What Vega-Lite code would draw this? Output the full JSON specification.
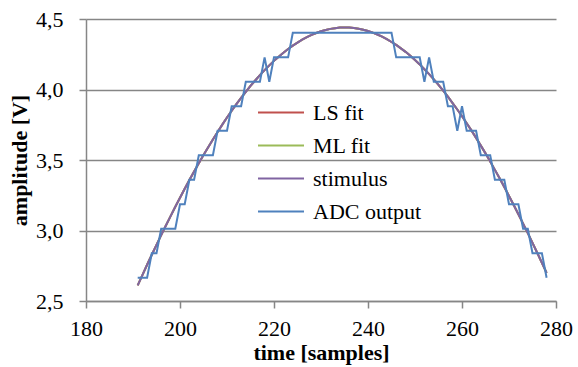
{
 "$schema": "https://vega.github.io/schema/vega-lite/v6.json",
 "width": 470, "height": 282,
 "autosize": {"type": "none"},
 "padding": {"left": 86, "top": 19, "right": 22, "bottom": 66},
 "background": "white",
 "config": {"view": {"stroke": null}, "font": "Liberation Serif"},
 "data": {"values": [
  {"t":191,"LS fit":2.611,"ML fit":2.611,"stimulus":2.611,"ADC output":2.665},
  {"t":192,"LS fit":2.684,"ML fit":2.684,"stimulus":2.684,"ADC output":2.665},
  {"t":193,"LS fit":2.757,"ML fit":2.757,"stimulus":2.757,"ADC output":2.665},
  {"t":194,"LS fit":2.828,"ML fit":2.828,"stimulus":2.828,"ADC output":2.839},
  {"t":195,"LS fit":2.898,"ML fit":2.898,"stimulus":2.898,"ADC output":2.839},
  {"t":196,"LS fit":2.967,"ML fit":2.967,"stimulus":2.967,"ADC output":3.012},
  {"t":197,"LS fit":3.035,"ML fit":3.035,"stimulus":3.035,"ADC output":3.012},
  {"t":198,"LS fit":3.102,"ML fit":3.102,"stimulus":3.102,"ADC output":3.012},
  {"t":199,"LS fit":3.168,"ML fit":3.168,"stimulus":3.168,"ADC output":3.012},
  {"t":200,"LS fit":3.232,"ML fit":3.232,"stimulus":3.232,"ADC output":3.186},
  {"t":201,"LS fit":3.296,"ML fit":3.296,"stimulus":3.296,"ADC output":3.186},
  {"t":202,"LS fit":3.358,"ML fit":3.358,"stimulus":3.358,"ADC output":3.360},
  {"t":203,"LS fit":3.418,"ML fit":3.418,"stimulus":3.418,"ADC output":3.360},
  {"t":204,"LS fit":3.477,"ML fit":3.477,"stimulus":3.477,"ADC output":3.534},
  {"t":205,"LS fit":3.535,"ML fit":3.535,"stimulus":3.535,"ADC output":3.534},
  {"t":206,"LS fit":3.591,"ML fit":3.591,"stimulus":3.591,"ADC output":3.534},
  {"t":207,"LS fit":3.646,"ML fit":3.646,"stimulus":3.646,"ADC output":3.534},
  {"t":208,"LS fit":3.699,"ML fit":3.699,"stimulus":3.699,"ADC output":3.707},
  {"t":209,"LS fit":3.751,"ML fit":3.751,"stimulus":3.751,"ADC output":3.707},
  {"t":210,"LS fit":3.801,"ML fit":3.801,"stimulus":3.801,"ADC output":3.707},
  {"t":211,"LS fit":3.849,"ML fit":3.849,"stimulus":3.849,"ADC output":3.881},
  {"t":212,"LS fit":3.896,"ML fit":3.896,"stimulus":3.896,"ADC output":3.881},
  {"t":213,"LS fit":3.940,"ML fit":3.940,"stimulus":3.940,"ADC output":3.881},
  {"t":214,"LS fit":3.983,"ML fit":3.983,"stimulus":3.983,"ADC output":4.055},
  {"t":215,"LS fit":4.025,"ML fit":4.025,"stimulus":4.025,"ADC output":4.055},
  {"t":216,"LS fit":4.064,"ML fit":4.064,"stimulus":4.064,"ADC output":4.055},
  {"t":217,"LS fit":4.102,"ML fit":4.102,"stimulus":4.102,"ADC output":4.055},
  {"t":218,"LS fit":4.137,"ML fit":4.137,"stimulus":4.137,"ADC output":4.228},
  {"t":219,"LS fit":4.171,"ML fit":4.171,"stimulus":4.171,"ADC output":4.055},
  {"t":220,"LS fit":4.203,"ML fit":4.203,"stimulus":4.203,"ADC output":4.228},
  {"t":221,"LS fit":4.233,"ML fit":4.233,"stimulus":4.233,"ADC output":4.228},
  {"t":222,"LS fit":4.261,"ML fit":4.261,"stimulus":4.261,"ADC output":4.228},
  {"t":223,"LS fit":4.287,"ML fit":4.287,"stimulus":4.287,"ADC output":4.228},
  {"t":224,"LS fit":4.311,"ML fit":4.311,"stimulus":4.311,"ADC output":4.402},
  {"t":225,"LS fit":4.333,"ML fit":4.333,"stimulus":4.333,"ADC output":4.402},
  {"t":226,"LS fit":4.353,"ML fit":4.353,"stimulus":4.353,"ADC output":4.402},
  {"t":227,"LS fit":4.371,"ML fit":4.371,"stimulus":4.371,"ADC output":4.402},
  {"t":228,"LS fit":4.387,"ML fit":4.387,"stimulus":4.387,"ADC output":4.402},
  {"t":229,"LS fit":4.401,"ML fit":4.401,"stimulus":4.401,"ADC output":4.402},
  {"t":230,"LS fit":4.413,"ML fit":4.413,"stimulus":4.413,"ADC output":4.402},
  {"t":231,"LS fit":4.422,"ML fit":4.422,"stimulus":4.422,"ADC output":4.402},
  {"t":232,"LS fit":4.430,"ML fit":4.430,"stimulus":4.430,"ADC output":4.402},
  {"t":233,"LS fit":4.435,"ML fit":4.435,"stimulus":4.435,"ADC output":4.402},
  {"t":234,"LS fit":4.439,"ML fit":4.439,"stimulus":4.439,"ADC output":4.402},
  {"t":235,"LS fit":4.440,"ML fit":4.440,"stimulus":4.440,"ADC output":4.402},
  {"t":236,"LS fit":4.439,"ML fit":4.439,"stimulus":4.439,"ADC output":4.402},
  {"t":237,"LS fit":4.436,"ML fit":4.436,"stimulus":4.436,"ADC output":4.402},
  {"t":238,"LS fit":4.431,"ML fit":4.431,"stimulus":4.431,"ADC output":4.402},
  {"t":239,"LS fit":4.424,"ML fit":4.424,"stimulus":4.424,"ADC output":4.402},
  {"t":240,"LS fit":4.415,"ML fit":4.415,"stimulus":4.415,"ADC output":4.402},
  {"t":241,"LS fit":4.403,"ML fit":4.403,"stimulus":4.403,"ADC output":4.402},
  {"t":242,"LS fit":4.390,"ML fit":4.390,"stimulus":4.390,"ADC output":4.402},
  {"t":243,"LS fit":4.375,"ML fit":4.375,"stimulus":4.375,"ADC output":4.402},
  {"t":244,"LS fit":4.357,"ML fit":4.357,"stimulus":4.357,"ADC output":4.402},
  {"t":245,"LS fit":4.337,"ML fit":4.337,"stimulus":4.337,"ADC output":4.402},
  {"t":246,"LS fit":4.316,"ML fit":4.316,"stimulus":4.316,"ADC output":4.228},
  {"t":247,"LS fit":4.292,"ML fit":4.292,"stimulus":4.292,"ADC output":4.228},
  {"t":248,"LS fit":4.267,"ML fit":4.267,"stimulus":4.267,"ADC output":4.228},
  {"t":249,"LS fit":4.239,"ML fit":4.239,"stimulus":4.239,"ADC output":4.228},
  {"t":250,"LS fit":4.209,"ML fit":4.209,"stimulus":4.209,"ADC output":4.228},
  {"t":251,"LS fit":4.178,"ML fit":4.178,"stimulus":4.178,"ADC output":4.228},
  {"t":252,"LS fit":4.144,"ML fit":4.144,"stimulus":4.144,"ADC output":4.055},
  {"t":253,"LS fit":4.109,"ML fit":4.109,"stimulus":4.109,"ADC output":4.228},
  {"t":254,"LS fit":4.072,"ML fit":4.072,"stimulus":4.072,"ADC output":4.055},
  {"t":255,"LS fit":4.033,"ML fit":4.033,"stimulus":4.033,"ADC output":4.055},
  {"t":256,"LS fit":3.992,"ML fit":3.992,"stimulus":3.992,"ADC output":4.055},
  {"t":257,"LS fit":3.949,"ML fit":3.949,"stimulus":3.949,"ADC output":3.881},
  {"t":258,"LS fit":3.904,"ML fit":3.904,"stimulus":3.904,"ADC output":3.881},
  {"t":259,"LS fit":3.858,"ML fit":3.858,"stimulus":3.858,"ADC output":3.707},
  {"t":260,"LS fit":3.810,"ML fit":3.810,"stimulus":3.810,"ADC output":3.881},
  {"t":261,"LS fit":3.761,"ML fit":3.761,"stimulus":3.761,"ADC output":3.707},
  {"t":262,"LS fit":3.710,"ML fit":3.710,"stimulus":3.710,"ADC output":3.707},
  {"t":263,"LS fit":3.657,"ML fit":3.657,"stimulus":3.657,"ADC output":3.707},
  {"t":264,"LS fit":3.602,"ML fit":3.602,"stimulus":3.602,"ADC output":3.534},
  {"t":265,"LS fit":3.547,"ML fit":3.547,"stimulus":3.547,"ADC output":3.534},
  {"t":266,"LS fit":3.489,"ML fit":3.489,"stimulus":3.489,"ADC output":3.534},
  {"t":267,"LS fit":3.430,"ML fit":3.430,"stimulus":3.430,"ADC output":3.360},
  {"t":268,"LS fit":3.370,"ML fit":3.370,"stimulus":3.370,"ADC output":3.360},
  {"t":269,"LS fit":3.308,"ML fit":3.308,"stimulus":3.308,"ADC output":3.360},
  {"t":270,"LS fit":3.245,"ML fit":3.245,"stimulus":3.245,"ADC output":3.186},
  {"t":271,"LS fit":3.181,"ML fit":3.181,"stimulus":3.181,"ADC output":3.186},
  {"t":272,"LS fit":3.115,"ML fit":3.115,"stimulus":3.115,"ADC output":3.186},
  {"t":273,"LS fit":3.049,"ML fit":3.049,"stimulus":3.049,"ADC output":3.012},
  {"t":274,"LS fit":2.981,"ML fit":2.981,"stimulus":2.981,"ADC output":3.012},
  {"t":275,"LS fit":2.912,"ML fit":2.912,"stimulus":2.912,"ADC output":2.839},
  {"t":276,"LS fit":2.842,"ML fit":2.842,"stimulus":2.842,"ADC output":2.839},
  {"t":277,"LS fit":2.771,"ML fit":2.771,"stimulus":2.771,"ADC output":2.839},
  {"t":278,"LS fit":2.699,"ML fit":2.699,"stimulus":2.699,"ADC output":2.665}
 ]},
 "transform": [{"fold": ["LS fit", "ML fit", "stimulus", "ADC output"], "as": ["series", "v"]}],
 "mark": {"type": "line", "strokeWidth": 2},
 "encoding": {
  "x": {"field": "t", "type": "quantitative",
   "scale": {"domain": [180, 280], "nice": false, "zero": false},
   "axis": {"values": [180, 200, 220, 240, 260, 280], "title": "time [samples]", "grid": false,
    "domainColor": "#868686", "domainWidth": 1.5, "tickColor": "#868686", "tickWidth": 1.5, "tickSize": 7,
    "labelFont": "Liberation Serif", "labelFontSize": 22, "labelColor": "#000000", "labelPadding": 10,
    "labelFlush": false,
    "titleFont": "Liberation Serif", "titleFontSize": 22, "titleFontWeight": "bold", "titleColor": "#000000", "titlePadding": 3}},
  "y": {"field": "v", "type": "quantitative",
   "scale": {"domain": [2.5, 4.5], "nice": false, "zero": false},
   "axis": {"values": [2.5, 3, 3.5, 4, 4.5], "title": "amplitude [V]",
    "labelExpr": "replace(format(datum.value, '.1f'), '.', ',')",
    "grid": true, "gridColor": "#868686", "gridWidth": 1.5,
    "domainColor": "#868686", "domainWidth": 1.5, "tickColor": "#868686", "tickWidth": 1.5, "tickSize": 7,
    "labelFont": "Liberation Serif", "labelFontSize": 22, "labelColor": "#000000", "labelPadding": 16,
    "labelFlush": false,
    "titleFont": "Liberation Serif", "titleFontSize": 22, "titleFontWeight": "bold", "titleColor": "#000000", "titlePadding": 4}},
  "color": {"field": "series", "type": "nominal",
   "scale": {"domain": ["LS fit", "ML fit", "stimulus", "ADC output"], "range": ["#C0504D", "#9BBB59", "#8064A2", "#4F81BD"]},
   "legend": {"title": null, "orient": "none", "legendX": 171, "legendY": 77,
    "symbolType": "stroke", "symbolSize": 2116, "symbolStrokeWidth": 2,
    "labelFont": "Liberation Serif", "labelFontSize": 22, "labelColor": "#000000", "labelOffset": 8,
    "clipHeight": 33, "rowPadding": 0, "padding": 0}}
 }
}
